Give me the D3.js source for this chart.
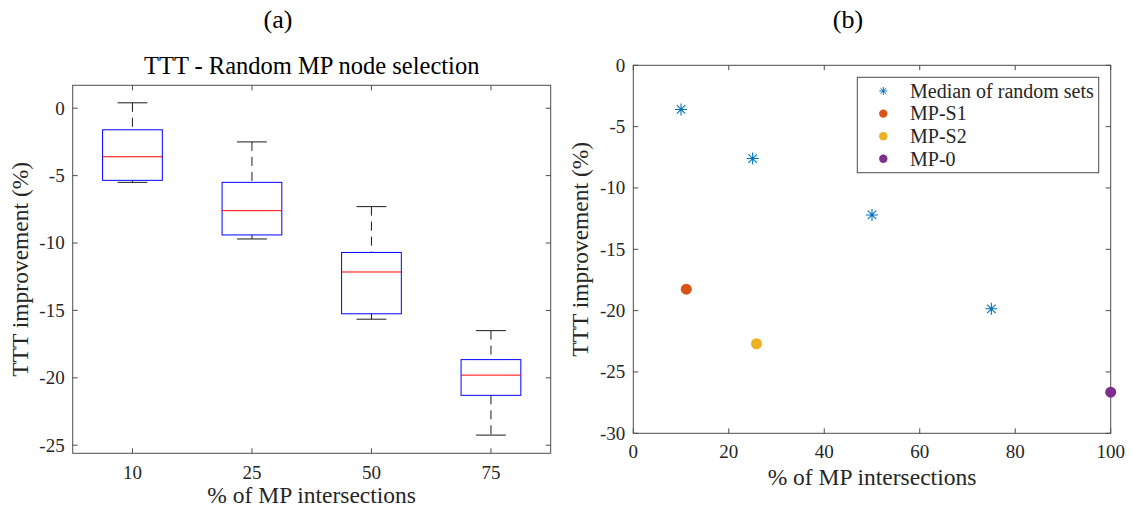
<!DOCTYPE html>
<html>
<head>
<meta charset="utf-8">
<script src="https://cdn.jsdelivr.net/npm/d3@7"></script>
<style>
  body { margin: 0; background: #fff; }
  svg text { font-family: 'Liberation Serif', 'Times New Roman', serif; fill: #262626; }
</style>
</head>
<body>
<svg id="chart" width="1132" height="511"></svg>
<script>
// panel (a): box plot stats per group
const groups = ['10', '25', '50', '75'];
const whiskerHigh = [0.4, -2.5, -7.3, -16.5];
const q3 = [-1.6, -5.5, -10.7, -18.65];
const medians = [-3.6, -7.6, -12.15, -19.8];
const q1 = [-5.35, -9.4, -15.25, -21.3];
const whiskerLow = [-5.5, -9.7, -15.65, -24.25];
const leftYTicks = [0, -5, -10, -15, -20, -25];

// panel (b): scatter
const medianX = [10, 25, 50, 75];
const medianY = [-3.6, -7.6, -12.2, -19.85];
const specialNames = ['MP-S1', 'MP-S2', 'MP-0'];
const specialX = [11.1, 25.8, 100];
const specialY = [-18.25, -22.7, -26.65];
const specialColors = ['#D95319', '#EDB120', '#7E2F8E'];
const rightXTicks = [0, 20, 40, 60, 80, 100];
const rightYTicks = [0, -5, -10, -15, -20, -25, -30];

const svg = d3.select('#chart');
const axisColor = '#4d4d4d';
const tickLen = 5;

const starPath = (s) => {
  const d = s * 0.707;
  return `M${-s},0L${s},0M0,${-s}L0,${s}M${-d},${-d}L${d},${d}M${-d},${d}L${d},${-d}`;
};

// ---------- panel (a) ----------
const A = { left: 72.7, right: 550.7, top: 85.3, bottom: 453.3 };
const xA = d3.scaleLinear().domain([0.5, 4.5]).range([A.left, A.right]);
const yA = d3.scaleLinear().domain([-25.6, 1.7]).range([A.bottom, A.top]);
const boxW = xA(1.25) - xA(1);

const gA = svg.append('g');

const boxes = gA.selectAll('g.box')
  .data(groups.map((g, i) => ({ g, i, pos: i + 1 })))
  .enter()
  .append('g')
  .attr('class', 'box');

// whiskers
boxes.append('line')
  .attr('x1', d => xA(d.pos)).attr('x2', d => xA(d.pos))
  .attr('y1', d => yA(whiskerHigh[d.i])).attr('y2', d => yA(q3[d.i]))
  .attr('stroke', '#1a1a1a').attr('stroke-dasharray', '9,6');
boxes.append('line')
  .attr('x1', d => xA(d.pos)).attr('x2', d => xA(d.pos))
  .attr('y1', d => yA(q1[d.i])).attr('y2', d => yA(whiskerLow[d.i]))
  .attr('stroke', '#1a1a1a').attr('stroke-dasharray', '9,6');
[whiskerHigh, whiskerLow].forEach(arr => {
  boxes.append('line')
    .attr('x1', d => xA(d.pos) - boxW / 2).attr('x2', d => xA(d.pos) + boxW / 2)
    .attr('y1', d => yA(arr[d.i])).attr('y2', d => yA(arr[d.i]))
    .attr('stroke', '#1a1a1a');
});
boxes.append('rect')
  .attr('x', d => xA(d.pos) - boxW)
  .attr('y', d => yA(q3[d.i]))
  .attr('width', boxW * 2)
  .attr('height', d => yA(q1[d.i]) - yA(q3[d.i]))
  .attr('fill', 'none').attr('stroke', '#0000FF');
boxes.append('line')
  .attr('x1', d => xA(d.pos) - boxW).attr('x2', d => xA(d.pos) + boxW)
  .attr('y1', d => yA(medians[d.i])).attr('y2', d => yA(medians[d.i]))
  .attr('stroke', '#FF0000');

// frame and ticks
gA.append('rect')
  .attr('x', A.left).attr('y', A.top)
  .attr('width', A.right - A.left).attr('height', A.bottom - A.top)
  .attr('fill', 'none').attr('stroke', axisColor);

groups.forEach((g, i) => {
  const x = xA(i + 1);
  gA.append('line').attr('x1', x).attr('x2', x).attr('y1', A.bottom).attr('y2', A.bottom - tickLen).attr('stroke', axisColor);
  gA.append('line').attr('x1', x).attr('x2', x).attr('y1', A.top).attr('y2', A.top + tickLen).attr('stroke', axisColor);
  gA.append('text').attr('x', x).attr('y', 479).attr('text-anchor', 'middle')
    .style('font-size', '19px').text(g);
});
leftYTicks.forEach(v => {
  const y = yA(v);
  gA.append('line').attr('x1', A.left).attr('x2', A.left + tickLen).attr('y1', y).attr('y2', y).attr('stroke', axisColor);
  gA.append('line').attr('x1', A.right).attr('x2', A.right - tickLen).attr('y1', y).attr('y2', y).attr('stroke', axisColor);
  gA.append('text').attr('x', A.left - 8).attr('y', y).attr('dy', '0.34em')
    .attr('text-anchor', 'end').style('font-size', '19px').text(v);
});

gA.append('text').attr('x', (A.left + A.right) / 2).attr('y', 74)
  .attr('text-anchor', 'middle').style('font-size', '24.5px').style('fill', '#000')
  .text('TTT - Random MP node selection');
gA.append('text').attr('x', (A.left + A.right) / 2).attr('y', 503)
  .attr('text-anchor', 'middle').style('font-size', '23.5px')
  .text('% of MP intersections');
gA.append('text')
  .attr('transform', `translate(28, ${(A.top + A.bottom) / 2}) rotate(-90)`)
  .attr('text-anchor', 'middle').style('font-size', '23.5px')
  .text('TTT improvement (%)');
svg.append('text').attr('x', 278).attr('y', 28).attr('text-anchor', 'middle')
  .style('font-size', '26px').style('fill', '#000').text('(a)');

// ---------- panel (b) ----------
const B = { left: 633.3, right: 1110.7, top: 65.3, bottom: 433.3 };
const xB = d3.scaleLinear().domain([0, 100]).range([B.left, B.right]);
const yB = d3.scaleLinear().domain([-30, 0]).range([B.bottom, B.top]);

const gB = svg.append('g');

gB.append('rect')
  .attr('x', B.left).attr('y', B.top)
  .attr('width', B.right - B.left).attr('height', B.bottom - B.top)
  .attr('fill', 'none').attr('stroke', axisColor);

rightXTicks.forEach(v => {
  const x = xB(v);
  gB.append('line').attr('x1', x).attr('x2', x).attr('y1', B.bottom).attr('y2', B.bottom - tickLen).attr('stroke', axisColor);
  gB.append('line').attr('x1', x).attr('x2', x).attr('y1', B.top).attr('y2', B.top + tickLen).attr('stroke', axisColor);
  gB.append('text').attr('x', x).attr('y', 458).attr('text-anchor', 'middle')
    .style('font-size', '19px').text(v);
});
rightYTicks.forEach(v => {
  const y = yB(v);
  gB.append('line').attr('x1', B.left).attr('x2', B.left + tickLen).attr('y1', y).attr('y2', y).attr('stroke', axisColor);
  gB.append('line').attr('x1', B.right).attr('x2', B.right - tickLen).attr('y1', y).attr('y2', y).attr('stroke', axisColor);
  gB.append('text').attr('x', B.left - 8).attr('y', y).attr('dy', '0.34em')
    .attr('text-anchor', 'end').style('font-size', '19px').text(v);
});

gB.selectAll('path.star')
  .data(medianX.map((x, i) => [x, medianY[i]]))
  .enter()
  .append('path')
  .attr('class', 'star')
  .attr('transform', d => `translate(${xB(d[0])}, ${yB(d[1])})`)
  .attr('d', starPath(6))
  .attr('stroke', '#0072BD').attr('stroke-width', 1.1).attr('fill', 'none');

gB.selectAll('circle.special')
  .data(specialX.map((x, i) => ({ x, y: specialY[i], c: specialColors[i] })))
  .enter()
  .append('circle')
  .attr('class', 'special')
  .attr('cx', d => xB(d.x)).attr('cy', d => yB(d.y))
  .attr('r', 5.5).attr('fill', d => d.c);

gB.append('text').attr('x', (B.left + B.right) / 2).attr('y', 485)
  .attr('text-anchor', 'middle').style('font-size', '23.5px')
  .text('% of MP intersections');
gB.append('text')
  .attr('transform', `translate(588, ${(B.top + B.bottom) / 2}) rotate(-90)`)
  .attr('text-anchor', 'middle').style('font-size', '23.5px')
  .text('TTT improvement (%)');
svg.append('text').attr('x', 848).attr('y', 28).attr('text-anchor', 'middle')
  .style('font-size', '26px').style('fill', '#000').text('(b)');

// legend
const legend = gB.append('g').attr('transform', 'translate(857.3, 77.3)');
legend.append('rect')
  .attr('width', 241.4).attr('height', 95.4)
  .attr('fill', '#fff').attr('stroke', axisColor);
const legendItems = [{ name: 'Median of random sets', star: true, c: '#0072BD' }]
  .concat(specialNames.map((n, i) => ({ name: n, star: false, c: specialColors[i] })));
const rows = legend.selectAll('g.item')
  .data(legendItems)
  .enter()
  .append('g')
  .attr('class', 'item')
  .attr('transform', (d, i) => `translate(0, ${13.7 + i * 22.6})`);
rows.filter(d => d.star).append('path')
  .attr('transform', 'translate(26, 0)')
  .attr('d', starPath(4))
  .attr('stroke', d => d.c).attr('fill', 'none');
rows.filter(d => !d.star).append('circle')
  .attr('cx', 26).attr('r', 4.2).attr('fill', d => d.c);
rows.append('text')
  .attr('x', 52.7).attr('dy', '0.34em')
  .style('font-size', '20px')
  .text(d => d.name);
</script>
</body>
</html>
